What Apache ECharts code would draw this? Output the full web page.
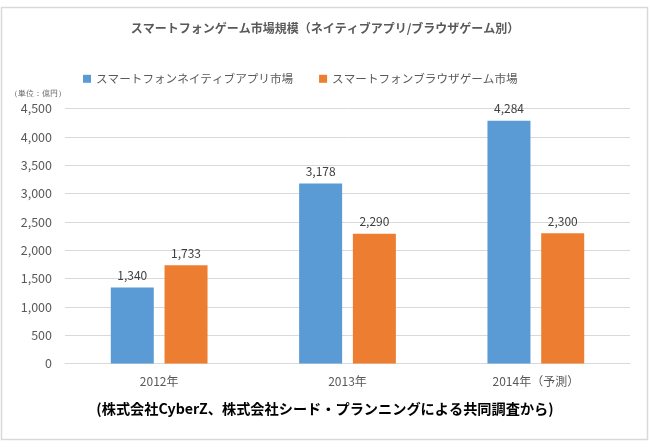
<!DOCTYPE html>
<html>
<head>
<meta charset="utf-8">
<style>
html,body{margin:0;padding:0;background:#fff;}
#chart{width:650px;height:448px;}
</style>
<script src="https://cdn.jsdelivr.net/npm/echarts@6/dist/echarts.min.js"></script>
</head>
<body>
<div id="chart"></div>
<script>
const categories = ['2012年', '2013年', '2014年（予測）'];
const nativeApp = [1340, 3178, 4284];
const browserGame = [1733, 2290, 2300];
const seriesNames = ['スマートフォンネイティブアプリ市場', 'スマートフォンブラウザゲーム市場'];
const titleText = 'スマートフォンゲーム市場規模（ネイティブアプリ/ブラウザゲーム別）';
const captionText = '(株式会社CyberZ、株式会社シード・プランニングによる共同調査から)';
const unitText = '（単位：億円）';

const FONT = '"Noto Sans CJK JP", "Noto Sans", sans-serif';
const chart = echarts.init(document.getElementById('chart'), null, {renderer: 'canvas'});
const labelOpt = {
  show: true, position: 'top', distance: 6,
  color: '#404040', fontSize: 12, fontFamily: FONT,
  formatter: p => p.value.toLocaleString('en-US')
};
chart.setOption({
  animation: false,
  backgroundColor: '#fff',
  textStyle: {fontFamily: FONT},
  title: {
    text: titleText, left: 'center', top: 17,
    textStyle: {fontSize: 12, fontWeight: 'bold', color: '#595959', fontFamily: FONT}
  },
  legend: {
    data: seriesNames, left: 78, top: 68, itemWidth: 8, itemHeight: 8, itemGap: 26,
    icon: 'rect',
    textStyle: {fontSize: 11.6, color: '#595959', fontFamily: FONT}
  },
  grid: {left: 65, right: 20, top: 108.5, bottom: 84.5, containLabel: false},
  xAxis: {
    type: 'category', data: categories,
    axisLine: {lineStyle: {color: '#d9d9d9', width: 1}},
    axisTick: {show: false},
    axisLabel: {color: '#595959', fontSize: 12, margin: 12, fontFamily: FONT}
  },
  yAxis: {
    type: 'value', min: 0, max: 4500, interval: 500,
    axisLine: {show: false}, axisTick: {show: false},
    splitLine: {lineStyle: {color: '#d9d9d9', width: 1}},
    axisLabel: {color: '#595959', fontSize: 12.5, margin: 13, fontFamily: FONT,
      formatter: v => v.toLocaleString('en-US')}
  },
  series: [
    {name: seriesNames[0], type: 'bar', data: nativeApp, barWidth: 43, barGap: '25%',
     itemStyle: {color: '#5B9BD5'}, label: labelOpt},
    {name: seriesNames[1], type: 'bar', data: browserGame, barWidth: 43,
     itemStyle: {color: '#ED7D31'}, label: labelOpt}
  ],
  graphic: [
    {type: 'rect', shape: {x: 1.5, y: 7.5, width: 646, height: 432},
     style: {fill: null, stroke: '#d9d9d9', lineWidth: 1.5}, silent: true},
    {type: 'text', left: 10, top: 90,
     style: {text: unitText, fontSize: 8, fill: '#595959', font: '8px ' + FONT}},
    {type: 'text', left: 'center', top: 402,
     style: {text: captionText, fill: '#000', font: 'bold 14.2px ' + FONT}}
  ]
});
</script>
</body>
</html>
